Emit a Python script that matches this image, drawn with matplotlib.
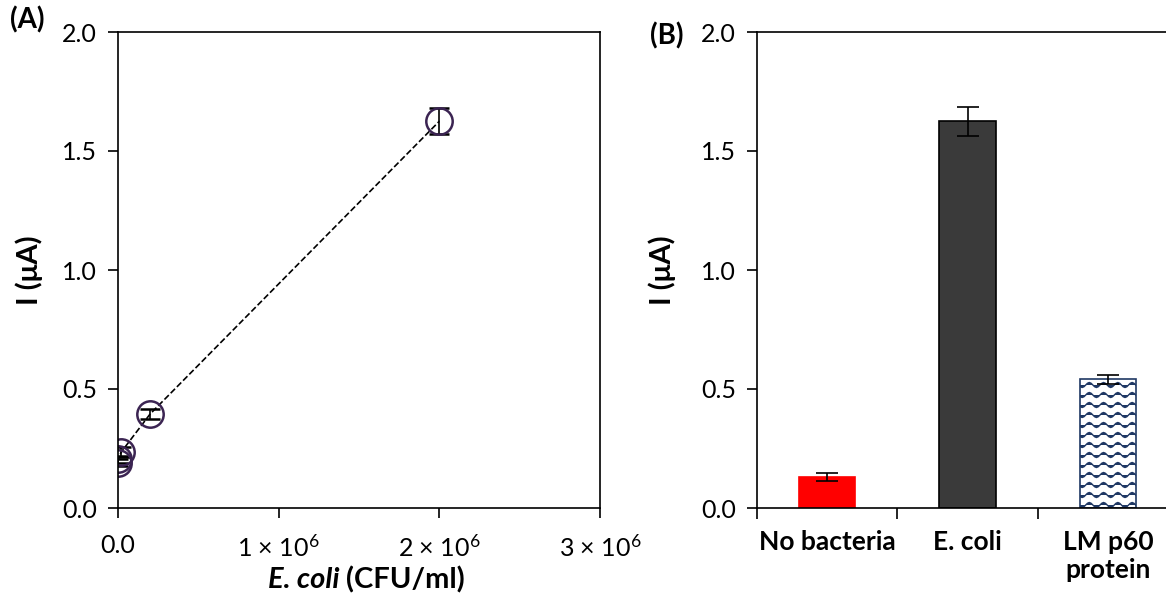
import warnings
import numpy as np
import matplotlib
matplotlib.use("Agg")
import matplotlib.pyplot as plt
import matplotlib.hatch as mhatch
from matplotlib.path import Path
from matplotlib.ticker import FuncFormatter

warnings.filterwarnings("ignore")

# panel A data
conc = [2e2, 2e3, 2e4, 2e5, 2e6]
current = [0.19, 0.205, 0.235, 0.395, 1.625]
current_err = [0.015, 0.015, 0.02, 0.02, 0.055]

# panel B data
samples = ["No bacteria", "E. coli", "LM p60\nprotein"]
signal = [0.13, 1.625, 0.54]
signal_err = [0.015, 0.06, 0.02]
bar_colors = ["#ff0000", "#3a3a3a", "white"]
bar_edges = ["#ff0000", "#000000", "#1f3864"]
bar_hatch = [None, None, "~"]


# wavy hatch, not in matplotlib by default
class WaveHatch(mhatch.HatchPatternBase):
    def __init__(self, hatch, density):
        self.num_lines = 10 if "~" in hatch else 0
        self.npts = 57
        self.num_vertices = self.num_lines * self.npts

    def set_vertices_and_codes(self, vertices, codes):
        t = np.linspace(0, 1, self.npts)
        k = 0
        for i in range(self.num_lines):
            y0 = (i + 0.5) / self.num_lines
            vertices[k:k + self.npts, 0] = t
            vertices[k:k + self.npts, 1] = y0 + 0.025 * np.sin(2 * np.pi * 7 * t)
            codes[k] = Path.MOVETO
            codes[k + 1:k + self.npts] = Path.LINETO
            k += self.npts


mhatch._hatch_types.append(WaveHatch)

plt.rcParams["font.family"] = ["Lato", "DejaVu Sans"]
plt.rcParams["mathtext.default"] = "regular"
plt.rcParams["hatch.linewidth"] = 1.0
plt.rcParams["axes.linewidth"] = 1.2

fig = plt.figure(figsize=(11.66, 6.03), dpi=100)
W, H = 1166, 603
ax1 = fig.add_axes([118 / W, 1 - 508 / H, (600 - 118) / W, (508 - 32) / H])
ax2 = fig.add_axes([757 / W, 1 - 508 / H, (1178 - 757) / W, (508 - 32) / H])

# ---- panel A
ax1.errorbar(conc, current, yerr=current_err, fmt="o", ls="--", lw=1.2,
             color="black", mfc="none", mec="#3b2452", mew=1.8, ms=19,
             ecolor="black", elinewidth=1.2, capsize=7, capthick=1.2)
ax1.set_xlim(0, 3e6)
ax1.set_ylim(0, 2.0)
ax1.set_xticks([0, 1e6, 2e6, 3e6])
ax1.set_yticks([0, 0.5, 1.0, 1.5, 2.0])


def sci(v, pos):
    if v == 0:
        return "0.0"
    return "%d × 10$^{6}$" % round(v / 1e6)


ax1.xaxis.set_major_formatter(FuncFormatter(sci))
ax1.yaxis.set_major_formatter(FuncFormatter(lambda v, p: "%.1f" % v))
ax1.tick_params(direction="out", length=7, width=1.2, labelsize=18, pad=8)
ax1.tick_params(axis="x", pad=12)
ax1.set_ylabel("I (μA)", fontsize=21, fontweight="bold", labelpad=14)
# x label in two pieces: italic species name + bold units
fig.text(339 / W, 1 - 580 / H, "E. coli", fontsize=21, fontweight="bold",
         style="italic", ha="right", va="center")
fig.text(346 / W, 1 - 580 / H, "(CFU/ml)", fontsize=21, fontweight="bold",
         ha="left", va="center")

# ---- panel B
xpos = np.arange(len(samples))
for i in range(len(samples)):
    ax2.bar(xpos[i], signal[i], width=0.4, color=bar_colors[i],
            edgecolor=bar_edges[i], linewidth=1.2, hatch=bar_hatch[i])
ax2.errorbar(xpos, signal, yerr=signal_err, fmt="none", ecolor="black",
             elinewidth=1.2, capsize=8, capthick=1.2)
ax2.set_xlim(-0.5, 2.5)
ax2.set_ylim(0, 2.0)
ax2.set_yticks([0, 0.5, 1.0, 1.5, 2.0])
ax2.yaxis.set_major_formatter(FuncFormatter(lambda v, p: "%.1f" % v))
ax2.set_xticks([-0.5, 0.5, 1.5])
ax2.set_xticklabels([])
ax2.set_xticks(xpos, minor=True)
ax2.set_xticklabels(samples, minor=True, fontsize=19, fontweight="bold")
ax2.tick_params(axis="x", which="minor", length=0, pad=16)
ax2.tick_params(axis="x", which="major", direction="out", length=8, width=1.2)
ax2.tick_params(axis="y", direction="out", length=7, width=1.2, labelsize=18, pad=8)
ax2.spines["right"].set_visible(False)
ax2.set_ylabel("I (μA)", fontsize=21, fontweight="bold", labelpad=18)

fig.text(10 / W, 1 - 20 / H, "(A)", fontsize=20, fontweight="bold", va="center")
fig.text(650 / W, 1 - 36 / H, "(B)", fontsize=20, fontweight="bold", va="center")

fig.savefig("out.png", dpi=100)
